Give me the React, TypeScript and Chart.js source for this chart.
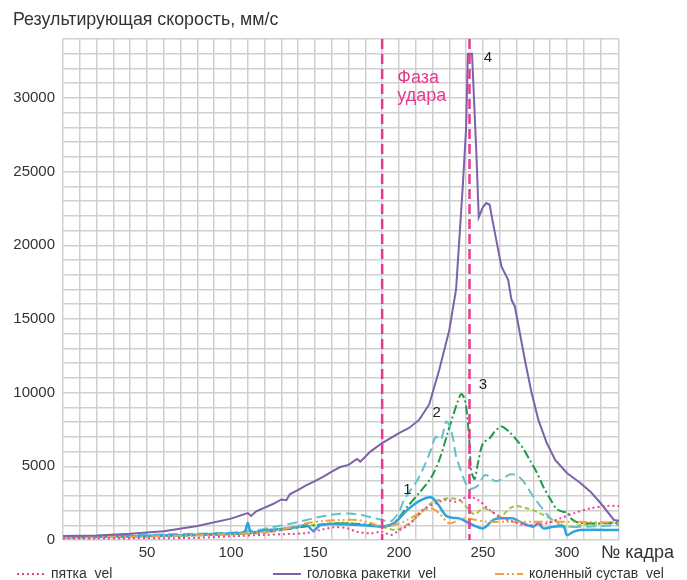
import React, { useEffect, useRef } from "react";
import { Chart, registerables } from "chart.js";

Chart.register(...registerables);

// ---------- data ----------
const heelFrames = [0, 20, 40, 60, 80, 100, 120, 133, 145, 155, 161, 169, 175, 183, 190, 195, 199, 207, 214, 222, 228, 234, 241, 247, 254, 262, 268, 274, 280, 288, 296, 304, 314, 324, 331];
const heelVel = [100, 100, 110, 120, 150, 250, 350, 400, 475, 725, 860, 800, 565, 450, 565, 340, 565, 1130, 2040, 2490, 2720, 2600, 2940, 2720, 2040, 1470, 1240, 1020, 1020, 1130, 1470, 1810, 2150, 2310, 2310];

const racketFrames = [0, 20, 40, 60, 80, 100, 110, 112, 115, 120, 125, 130, 133, 135, 140, 145, 150, 155, 160, 165, 170, 175, 177, 183, 190, 200, 206, 212, 218, 224, 230, 234, 238, 240, 241, 243.5, 246, 247.5, 250, 252, 254, 256, 261, 265, 267, 269, 275, 279, 283, 288, 293, 300, 308, 314, 320, 328, 331];
const racketVel = [270, 300, 420, 600, 950, 1450, 1830, 1630, 1950, 2200, 2440, 2750, 2700, 3100, 3400, 3730, 4000, 4300, 4640, 4950, 5100, 5500, 5320, 6000, 6580, 7260, 7600, 8150, 9200, 11550, 14260, 17000, 24000, 28000, 33000, 33000, 26500, 21900, 22600, 22870, 22750, 21500, 18560, 17660, 16300, 15850, 12200, 9970, 8150, 6580, 5430, 4550, 3870, 3280, 2510, 1360, 1300];

const kneeFrames = [0, 20, 40, 60, 80, 100, 120, 140, 145, 155, 166, 175, 183, 190, 197, 205, 212, 219, 224, 230, 238, 246, 252, 266, 280, 300, 320, 331];
const kneeVel = [180, 200, 230, 280, 330, 400, 550, 950, 1130, 1290, 1360, 1360, 1150, 900, 1020, 1360, 1810, 2150, 1810, 1130, 1470, 1360, 1240, 1240, 1240, 1240, 1200, 1150];

const shoulderFrames = [0, 20, 40, 60, 80, 100, 108, 110, 112, 120, 130, 140, 145, 149, 153, 159, 170, 177, 185, 190, 197, 205, 210, 214, 218, 220, 224, 228, 232, 236, 240, 244, 250, 256, 260, 266, 268, 274, 280, 283, 286, 292, 298, 300, 304, 308, 331];
const shoulderVel = [200, 220, 250, 300, 350, 450, 550, 1150, 550, 650, 750, 900, 1020, 630, 1000, 1090, 1060, 1020, 950, 900, 1130, 2040, 2500, 2760, 2900, 2850, 2300, 1650, 1500, 1470, 1250, 1020, 790, 1360, 1470, 1470, 1470, 1130, 900, 1130, 790, 900, 900, 340, 565, 680, 680];

const elbowFrames = [0, 20, 40, 60, 80, 100, 110, 120, 125, 135, 145, 150, 159, 165, 170, 177, 185, 190, 195, 200, 203, 207, 211, 215, 219, 222, 225, 228, 230, 232, 234, 236, 238, 240, 242, 244, 247, 251, 254, 257, 261, 266, 270, 274, 280, 286, 290, 294, 300, 310, 331];
const elbowVel = [250, 280, 330, 380, 430, 500, 600, 750, 880, 1100, 1360, 1500, 1700, 1780, 1800, 1700, 1500, 1360, 1250, 1900, 2720, 3400, 4070, 5000, 6110, 7010, 6800, 8030, 7800, 7010, 5660, 5000, 4300, 3800, 3510, 3500, 3700, 4400, 4300, 4000, 4100, 4450, 4400, 4000, 2940, 2040, 1500, 1130, 900, 900, 1020];

const wristFrames = [0, 20, 40, 60, 80, 100, 120, 140, 150, 160, 170, 177, 185, 190, 197, 205, 212, 219, 224, 229, 232, 235, 237, 239, 240.5, 242, 243, 245, 247, 250, 254, 257, 261, 266, 270, 274, 278, 282, 286, 290, 294, 298, 300, 303, 308, 331];
const wristVel = [200, 220, 260, 300, 350, 400, 550, 850, 1000, 1100, 1130, 1080, 1000, 900, 1150, 2260, 3190, 4200, 5430, 7260, 8370, 9400, 9900, 9600, 8600, 6570, 4750, 4140, 5210, 6570, 6900, 7360, 7700, 7300, 6800, 6200, 5400, 4600, 3600, 2800, 2100, 1900, 1900, 1400, 1150, 1150];

const hipFrames = [0, 20, 40, 60, 80, 100, 120, 145, 166, 177, 190, 198, 206, 212, 219, 224, 230, 236, 240, 245, 250, 255, 260, 266, 270, 276, 282, 288, 294, 300, 308, 331];
const hipVel = [150, 170, 200, 250, 300, 380, 500, 950, 1180, 1020, 900, 680, 1130, 1700, 2490, 2720, 2830, 2720, 2260, 1750, 2150, 1950, 1550, 2150, 2300, 2150, 1920, 1580, 1240, 900, 1020, 1240];

const seriesNames = [
  "пятка_vel",
  "головка ракетки_vel",
  "коленный сустав_vel",
  "плечевой сустав_vel",
  "локтевой сустав_vel",
  "лучезапястный сустав_vel",
  "тазобедренный сустав_vel",
];

const yTickStep = 5000;
const xTickStep = 50;

const phaseLines = [190, 242];
const phaseText = ["Фаза", "удара"];
const phaseTextFrame = 199;
const phaseTextValues = [31350, 30150];

const peakLabels = ["1", "2", "3", "4"];
const peakLabelFrames = [205, 222.5, 250, 253];
const peakLabelValues = [3400, 8650, 10500, 32750];

const yTitle = "Результирующая скорость, мм/с";
const xTitle = "№ кадра";

// ---------- styles ----------
const FONT = "'Liberation Sans', Arial, Helvetica, sans-serif";
const PINK = "#e8398f";

const seriesStyles = [
  { color: "#ee4098", dash: [2, 3], width: 2 },
  { color: "#7c62a9", dash: [], width: 2 },
  { color: "#f5a03f", dash: [9, 3, 2, 3, 2, 3], width: 2 },
  { color: "#2ea3e2", dash: [], width: 2.5 },
  { color: "#62c2c8", dash: [10, 5], width: 2 },
  { color: "#1f9a48", dash: [9, 3, 2, 3], width: 2 },
  { color: "#9ec83c", dash: [5, 3], width: 2 },
];

const seriesData = [
  [heelFrames, heelVel],
  [racketFrames, racketVel],
  [kneeFrames, kneeVel],
  [shoulderFrames, shoulderVel],
  [elbowFrames, elbowVel],
  [wristFrames, wristVel],
  [hipFrames, hipVel],
];

const legendX = [17, 273, 495];

const overlayPlugin = {
  id: "overlay",
  afterDatasetsDraw(chart: any) {
    const { ctx, chartArea } = chart;
    const x = chart.scales.x;
    const y = chart.scales.y;
    ctx.save();
    ctx.strokeStyle = PINK;
    ctx.lineWidth = 2.5;
    ctx.setLineDash([10, 5]);
    phaseLines.forEach((f) => {
      const px = x.getPixelForValue(f);
      ctx.beginPath();
      ctx.moveTo(px, chartArea.top);
      ctx.lineTo(px, chartArea.bottom);
      ctx.stroke();
    });
    ctx.setLineDash([]);
    ctx.fillStyle = PINK;
    ctx.font = `18px ${FONT}`;
    ctx.textAlign = "left";
    ctx.textBaseline = "middle";
    phaseText.forEach((t, i) => {
      ctx.fillText(t, x.getPixelForValue(phaseTextFrame), y.getPixelForValue(phaseTextValues[i]));
    });
    ctx.fillStyle = "#222";
    ctx.font = `15px ${FONT}`;
    ctx.textAlign = "center";
    peakLabels.forEach((t, i) => {
      ctx.fillText(t, x.getPixelForValue(peakLabelFrames[i]), y.getPixelForValue(peakLabelValues[i]));
    });
    ctx.restore();
  },
  afterDraw(chart: any) {
    const { ctx, chartArea } = chart;
    ctx.save();
    ctx.fillStyle = "#333";
    ctx.font = `17.8px ${FONT}`;
    ctx.textAlign = "left";
    ctx.textBaseline = "alphabetic";
    ctx.fillText(yTitle, 13, 25);
    ctx.font = `18px ${FONT}`;
    ctx.fillText(xTitle, chartArea.right - 18, chartArea.bottom + 18);
    ctx.font = `14px ${FONT}`;
    chart.data.datasets.forEach((ds: any, i: number) => {
      const col = i % 3;
      const row = Math.floor(i / 3);
      const lx = legendX[col];
      const ly = chartArea.bottom + 34 + row * 20;
      ctx.strokeStyle = ds.borderColor;
      ctx.lineWidth = ds.borderWidth;
      ctx.setLineDash(ds.borderDash || []);
      ctx.beginPath();
      ctx.moveTo(lx, ly);
      ctx.lineTo(lx + 28, ly);
      ctx.stroke();
      ctx.setLineDash([]);
      ctx.fillStyle = "#333";
      ctx.fillText(ds.label, lx + 34, ly + 4);
    });
    ctx.restore();
  },
};

export default function App() {
  const ref = useRef<HTMLCanvasElement | null>(null);
  useEffect(() => {
    if (!ref.current) return;
    const datasets = seriesData.map(([fr, vals], i) => ({
      label: seriesNames[i],
      data: fr.map((f, j) => ({ x: f, y: vals[j] })),
      borderColor: seriesStyles[i].color,
      backgroundColor: seriesStyles[i].color,
      borderDash: seriesStyles[i].dash,
      borderWidth: seriesStyles[i].width,
      pointRadius: 0,
      tension: i === 1 ? 0 : 0.3,
      fill: false,
    }));
    const chart = new Chart(ref.current, {
      type: "line",
      data: { datasets },
      options: {
        responsive: false,
        animation: false,
        devicePixelRatio: 1,
        layout: { padding: { top: 39, right: 68, bottom: 40, left: 0 } },
        plugins: { legend: { display: false }, tooltip: { enabled: false }, title: { display: false } },
        scales: {
          x: {
            type: "linear",
            min: 0,
            max: 331,
            border: { display: false },
            grid: { color: "#d0d0d0", lineWidth: 1.5, drawTicks: false },
            ticks: {
              stepSize: 10,
              autoSkip: false,
              maxRotation: 0,
              padding: 4,
              color: "#333",
              font: { family: FONT, size: 15 },
              callback: (v: any) => (v > 0 && v % xTickStep === 0 ? String(v) : ""),
            },
            afterFit: (s: any) => {
              s.height = 20;
            },
          },
          y: {
            type: "linear",
            min: 0,
            max: 34000,
            border: { display: false },
            grid: { color: "#d0d0d0", lineWidth: 1.5, drawTicks: false },
            ticks: {
              stepSize: 1000,
              autoSkip: false,
              padding: 8,
              color: "#333",
              font: { family: FONT, size: 15 },
              callback: (v: any) => (v % yTickStep === 0 ? String(v) : ""),
            },
            afterFit: (s: any) => {
              s.width = 63;
            },
          },
        },
      },
      plugins: [overlayPlugin],
    });
    return () => chart.destroy();
  }, []);
  return (
    <div style={{ position: "fixed", left: 0, top: 0, width: 687, height: 580, overflow: "hidden", background: "#fff" }}>
      <canvas ref={ref} width={687} height={600} style={{ display: "block", width: 687, height: 600 }} />
    </div>
  );
}
